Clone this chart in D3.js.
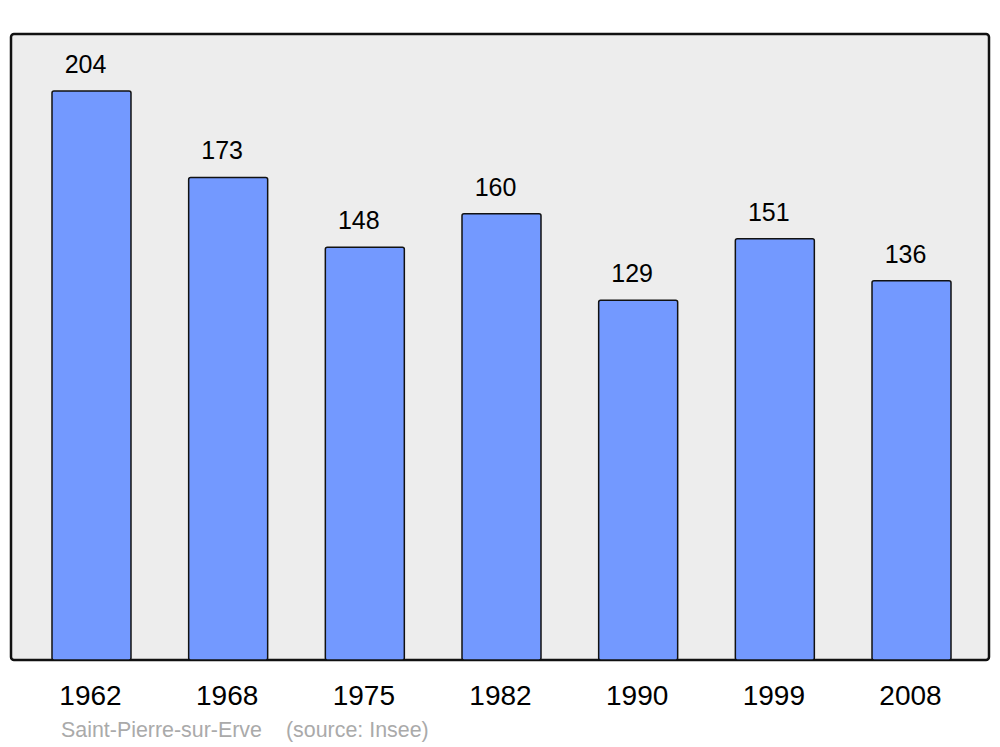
<!DOCTYPE html>
<html>
<head>
<meta charset="utf-8">
<script src="https://cdn.jsdelivr.net/npm/d3@7"></script>
<style>
  body { margin: 0; background: #fff; }
  text { font-family: "Liberation Sans", Arial, sans-serif; }
</style>
</head>
<body>
<div class="chart"></div>
<script>
var years = ["1962", "1968", "1975", "1982", "1990", "1999", "2008"];
var population = [204, 173, 148, 160, 129, 151, 136];
var commune = "Saint-Pierre-sur-Erve";
var sourceNote = "(source: Insee)";

var svgWidth = 1000;
var svgHeight = 747;

// plot panel box
var panel = { left: 11, top: 34, right: 989, bottom: 660 };

var svg = d3.select(".chart")
  .append("svg")
  .attr("width", svgWidth)
  .attr("height", svgHeight);

svg.append("rect")
  .attr("x", panel.left)
  .attr("y", panel.top)
  .attr("width", panel.right - panel.left)
  .attr("height", panel.bottom - panel.top)
  .attr("rx", 3)
  .attr("fill", "#ededed")
  .attr("stroke", "#111")
  .attr("stroke-width", 2.5);

var xScale = d3.scaleBand()
  .domain(years)
  .range([12.5, 990.5])
  .paddingInner(0.422)
  .paddingOuter(0.289);

var yScale = d3.scaleLinear()
  .domain([0, d3.max(population)])
  .range([panel.bottom, 91]);

var data = years.map(function (y, i) { return { year: y, value: population[i] }; });

svg.selectAll(".bar")
  .data(data)
  .enter().append("rect")
  .attr("class", "bar")
  .attr("x", d => xScale(d.year))
  .attr("y", d => yScale(d.value))
  .attr("width", xScale.bandwidth())
  .attr("height", d => panel.bottom - yScale(d.value))
  .attr("rx", 2)
  .attr("fill", "#7399ff")
  .attr("stroke", "#111")
  .attr("stroke-width", 1.5);

// value labels above bars
svg.selectAll(".value")
  .data(data)
  .enter().append("text")
  .attr("class", "value")
  .attr("x", d => xScale(d.year) + xScale.bandwidth() / 2 - 6)
  .attr("y", d => yScale(d.value) - 18)
  .attr("text-anchor", "middle")
  .attr("font-size", "25px")
  .attr("fill", "#000")
  .text(d => d.value);

// year labels under the panel
var bottomAxis = d3.axisBottom(xScale).tickSize(0).tickPadding(0);
var xAxis = svg.append("g")
  .attr("transform", `translate(0, ${panel.bottom})`)
  .call(bottomAxis);
xAxis.select(".domain").remove();
xAxis.selectAll("text")
  .attr("dy", null)
  .attr("y", 45)
  .attr("x", -1)
  .attr("font-size", "28px")
  .attr("font-family", "Liberation Sans, Arial, sans-serif")
  .attr("fill", "#000");

// footer
svg.append("text")
  .attr("x", 61)
  .attr("y", 737)
  .attr("font-size", "21.4px")
  .attr("fill", "#aaaaaa")
  .text(commune);

svg.append("text")
  .attr("x", 286)
  .attr("y", 737)
  .attr("font-size", "21.4px")
  .attr("fill", "#aaaaaa")
  .text(sourceNote);
</script>
</body>
</html>
